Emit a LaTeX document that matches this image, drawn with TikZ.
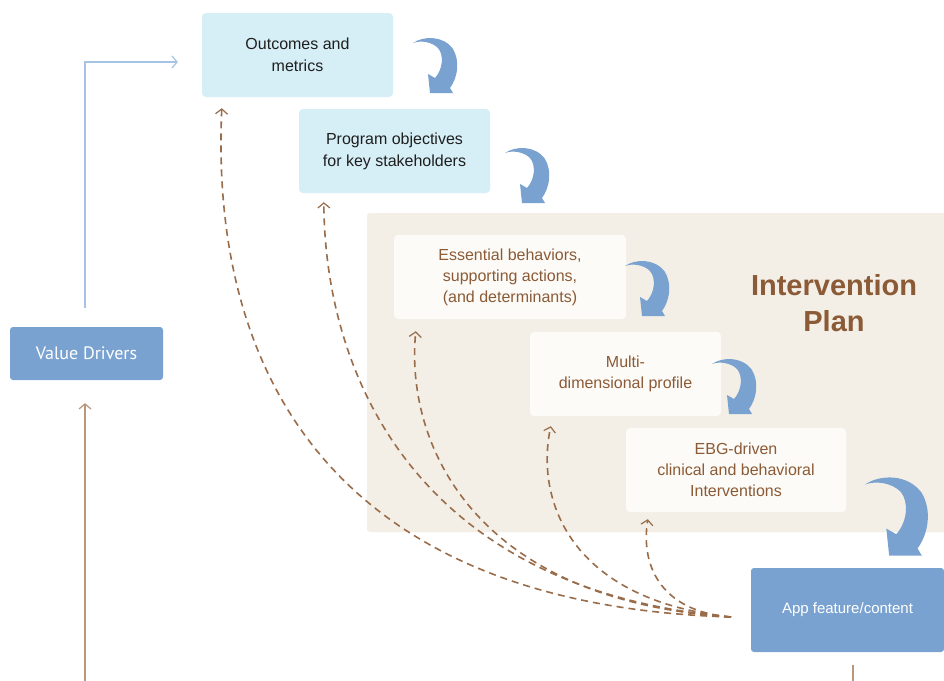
\documentclass[tikz,border=0pt]{standalone}
\usepackage{fontspec}
\setmainfont{Liberation Sans}
\newfontfamily\vdfont{PT Sans}
\usetikzlibrary{arrows.meta}
\definecolor{cyanbox}{HTML}{D6EEF6}
\definecolor{planbg}{HTML}{F3EFE6}
\definecolor{innerbox}{HTML}{FCFBF7}
\definecolor{brownt}{HTML}{8B5A36}
\definecolor{boxblue}{HTML}{7AA2D0}
\definecolor{arrowblue}{HTML}{7AA2D0}
\definecolor{lineblue}{HTML}{A7C3E4}
\definecolor{linebrown}{HTML}{B8977A}
\definecolor{dashbrown}{HTML}{9A6D4A}
\begin{document}
\begin{tikzpicture}[x=1pt,y=-1pt,
  cbox/.style={fill=cyanbox, rounded corners=4pt, minimum width=191pt, minimum height=84pt,
    align=center, text=black!88, font=\fontsize{16}{22}\selectfont},
  ibox/.style={fill=innerbox, rounded corners=4pt, minimum height=84pt,
    align=center, text=brownt, font=\fontsize{16}{21}\selectfont},
  bbox/.style={fill=boxblue, rounded corners=3pt, align=center, text=white},
  dashline/.style={draw=dashbrown, line width=1.6pt, dash pattern=on 7pt off 5pt,
    -{Straight Barb[length=5pt,width=12pt,line width=1.2pt]}},
  curvarrow/.pic={
    \fill[arrowblue] (0,6) .. controls (10,-1) and (30,-2) .. (40,12)
      .. controls (47,24) and (45,40) .. (37,51) -- (40,56) -- (17,56) -- (15,37) -- (22,41)
      .. controls (30,32) and (31,18) .. (25,11) .. controls (19,5) and (8,3) .. (0,6) -- cycle;
  }]
\useasboundingbox (0,0) rectangle (944,680);
\fill[white] (0,0) rectangle (944,680);

% Intervention plan background
\fill[planbg, rounded corners=3pt] (367,213) rectangle (960,532);

% boxes
\node[cbox] (out) at (297.5,55) {Outcomes and\\metrics};
\node[cbox] (prog) at (394.5,151) {Program objectives\\for key stakeholders};
\node[ibox, minimum width=232pt] (ess) at (510,277) {Essential behaviors,\\supporting actions,\\(and determinants)};
\node[ibox, minimum width=191pt] (multi) at (625.5,374) {Multi-\\dimensional profile};
\node[ibox, minimum width=220pt] (ebg) at (736,470) {EBG-driven\\clinical and behavioral\\Interventions};
\node[text=brownt, font=\bfseries\fontsize{29}{36}\selectfont, align=center] (title) at (834,303) {Intervention\\Plan};

\node[bbox, minimum width=153pt, minimum height=53pt, font=\vdfont\fontsize{18}{22}\selectfont] (vd) at (86.5,353.5) {Value Drivers};
\node[bbox, minimum width=193pt, minimum height=84pt, font=\fontsize{15}{20}\selectfont] (app) at (847.5,610) {App feature/content};

% curved blue arrows
\pic at (413,37) {curvarrow};
\pic at (505,147) {curvarrow};
\pic at (625,260) {curvarrow};
\pic at (712,358) {curvarrow};
\pic[scale=1.42] at (865,476) {curvarrow};

% value drivers connectors
\draw[lineblue, line width=1.3pt, -{Straight Barb[length=5pt,width=12pt,line width=1.2pt]}]
  ([xshift=-1.5pt,yshift=19pt]vd.north) |- ([xshift=-24pt,yshift=-7pt]out.west);
\coordinate (vdbottom) at (85,685);
\draw[linebrown, line width=1.6pt, -{Straight Barb[length=5pt,width=12pt,line width=1.2pt]}]
  (vdbottom) -- ([xshift=-1.5pt,yshift=-23pt]vd.south);
\coordinate (appbottom) at (853,685);
\draw[linebrown, line width=1.4pt] ([xshift=5.5pt,yshift=-13pt]app.south) -- (appbottom);

% dashed feedback curves
\coordinate (hub) at (731,617);
\draw[dashline] (hub) .. controls (330,605) and (210,370) .. ([xshift=20pt,yshift=-11pt]out.south west);
\draw[dashline] (hub) .. controls (420,590) and (325,380) .. ([xshift=25pt,yshift=-9pt]prog.south west);
\draw[dashline] (hub) .. controls (470,600) and (405,440) .. ([xshift=22pt,yshift=-12pt]ess.south west);
\draw[dashline] (hub) .. controls (570,600) and (535,500) .. ([xshift=21pt,yshift=-10pt]multi.south west);
\draw[dashline] (hub) .. controls (665,612) and (640,570) .. ([xshift=22pt,yshift=-7pt]ebg.south west);
\end{tikzpicture}
\end{document}
